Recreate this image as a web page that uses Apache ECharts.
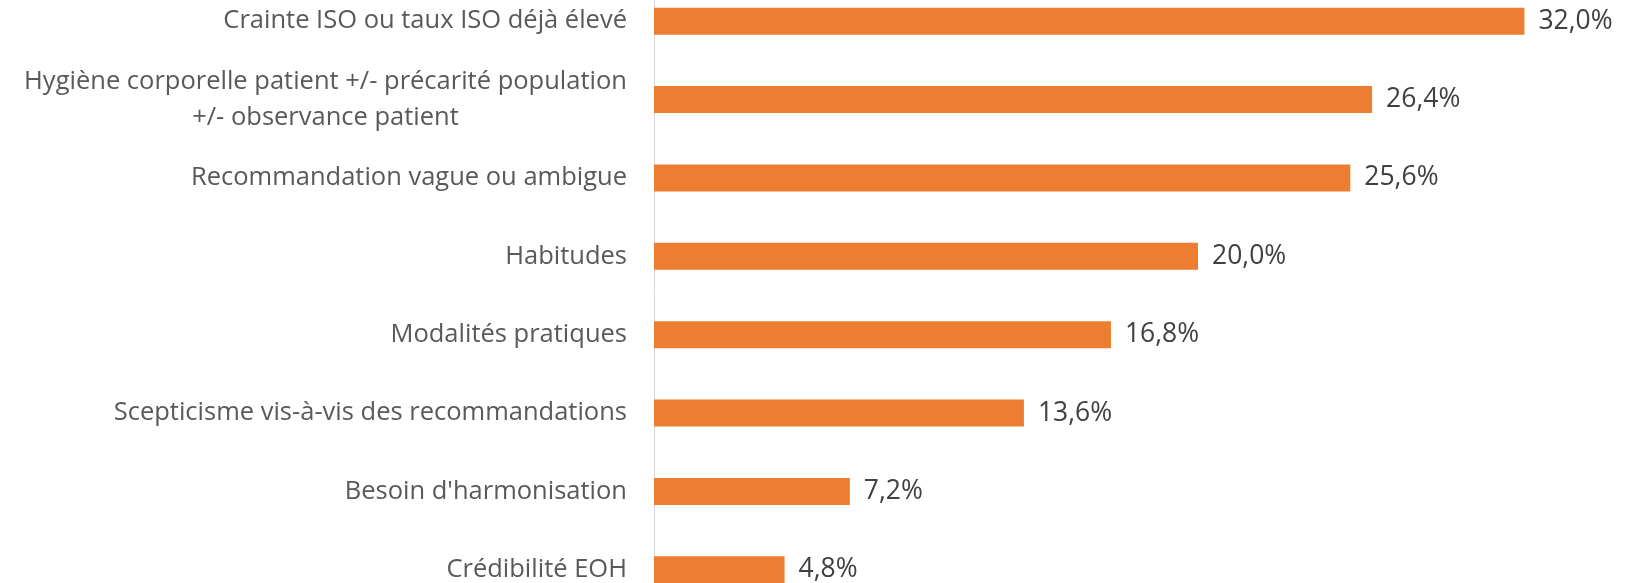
<!DOCTYPE html>
<html>
<head>
<meta charset="utf-8">
<script src="https://cdn.jsdelivr.net/npm/echarts@6/dist/echarts.min.js"></script>
<style>
  html, body { margin: 0; padding: 0; background: #fff; }
  #chart { width: 1639px; height: 583px; }
</style>
</head>
<body>
<div id="chart"></div>
<script>
// Categories, top to bottom
const categories = [
  "Crainte ISO ou taux ISO déjà élevé",
  "Hygiène corporelle patient +/- précarité population\n+/- observance patient",
  "Recommandation vague ou ambigue",
  "Habitudes",
  "Modalités pratiques",
  "Scepticisme vis-à-vis des recommandations",
  "Besoin d'harmonisation",
  "Crédibilité EOH"
];
// Share of respondents (%)
const values = [32.0, 26.4, 25.6, 20.0, 16.8, 13.6, 7.2, 4.8];

const FONT = "'Open Sans', sans-serif";
const LABEL_SIZE = 25.5;
const VALUE_SIZE = 26.5;
const LINE_H = 36;

// Width of the widest line, so multi-line labels can be centred on it
const ctx = document.createElement('canvas').getContext('2d');
ctx.font = LABEL_SIZE + "px 'Open Sans'";
function lineWidth(s) { return Math.ceil(ctx.measureText(s).width); }
const multi = categories.filter(c => c.indexOf('\n') >= 0);
const wMax = multi.length
  ? Math.max.apply(null, multi.map(c => Math.max.apply(null, c.split('\n').map(lineWidth))))
  : 0;

const chart = echarts.init(document.getElementById('chart'));
chart.setOption({
  animation: false,
  grid: {
    left: 654, right: 33, top: -18, height: 627,
    containLabel: false, outerBoundsMode: 'none'
  },
  xAxis: {
    type: 'value', min: 0, max: 35,
    show: false, splitLine: { show: false }
  },
  yAxis: {
    type: 'category', data: categories, inverse: true,
    axisLine: { show: true, lineStyle: { color: '#D9D9D9', width: 1 } },
    axisTick: { show: false },
    axisLabel: {
      margin: 27, color: '#595959', fontFamily: FONT, fontSize: LABEL_SIZE,
      lineHeight: LINE_H,
      formatter: function (v) {
        const lines = v.split('\n');
        if (lines.length === 1) return v;
        return lines.map(l => '{c|' + l + '}').join('\n');
      },
      rich: {
        c: {
          color: '#595959', fontFamily: FONT, fontSize: LABEL_SIZE, lineHeight: LINE_H,
          width: wMax, align: 'center'
        }
      }
    }
  },
  series: [{
    type: 'bar', data: values, barWidth: 27,
    itemStyle: { color: '#ED7D31' },
    label: {
      show: true, position: 'right', distance: 14,
      color: '#404040', fontFamily: FONT, fontSize: VALUE_SIZE,
      formatter: p => p.value.toFixed(1).replace('.', ',') + '%'
    }
  }]
});
</script>
</body>
</html>
